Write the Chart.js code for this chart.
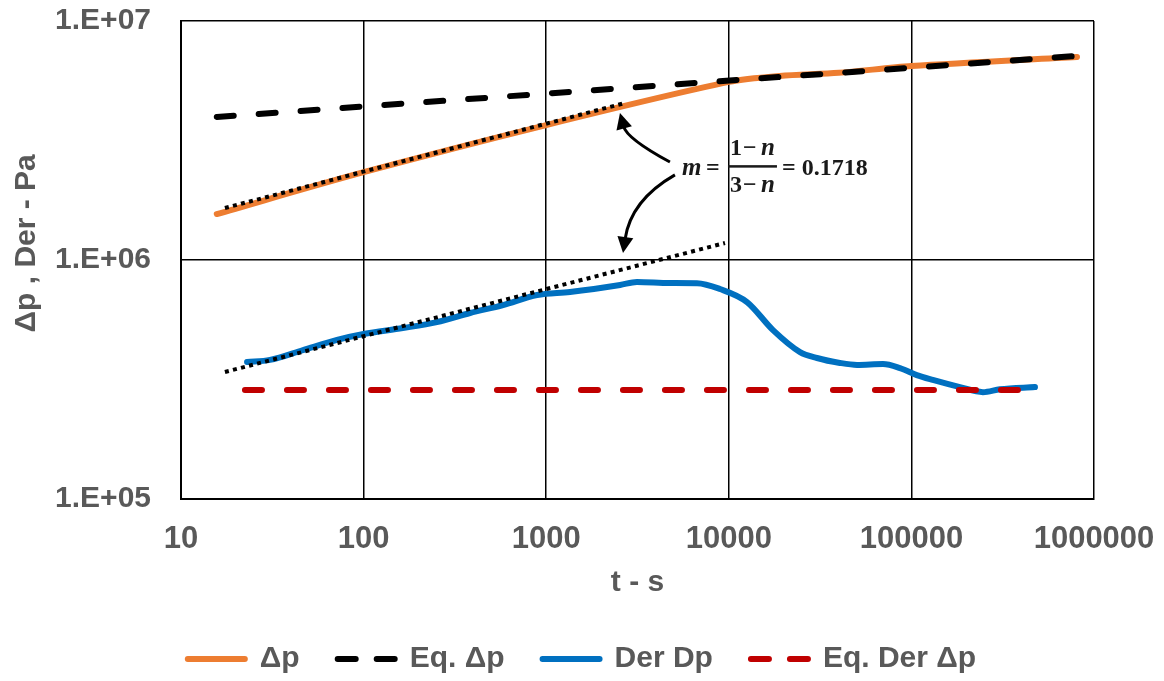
<!DOCTYPE html>
<html>
<head>
<meta charset="utf-8">
<title>Pressure and derivative vs time</title>
<script src="https://cdn.jsdelivr.net/npm/chart.js@4.4.1/dist/chart.umd.min.js"></script>
<style>
  html, body { margin: 0; padding: 0; background: #fff; }
  #wrap { width: 1164px; height: 681px; }
</style>
</head>
<body>
<div id="wrap"><canvas id="chart"></canvas></div>
<script>
// ---- data (t in s, values in Pa) ----
const dpTime = [15.7, 100, 1000, 10000, 19000, 40000, 100000, 807000];
const dpValue = [1.557e6, 2.33e6, 3.67e6, 5.56e6, 5.89e6, 6.07e6, 6.48e6, 7.07e6];

const eqDpTime = [15.7, 807000];
const eqDpValue = [3.97e6, 7.14e6];

const derTime = [23, 30.7, 46.6, 71.5, 100, 164, 252, 383, 580, 891, 1350, 2540, 3140, 4760, 6700,
                 8950, 12580, 17460, 24550, 30400, 40600, 50400, 69900, 86600, 107000, 131000,
                 184500, 246600, 305500, 475000];
const derValue = [3.74e5, 3.82e5, 4.20e5, 4.63e5, 4.90e5, 5.19e5, 5.50e5, 6.00e5, 6.48e5, 7.14e5,
                  7.35e5, 7.86e5, 8.09e5, 8.01e5, 8.0e5, 7.56e5, 6.67e5, 5.09e5, 4.12e5, 3.89e5,
                  3.71e5, 3.64e5, 3.67e5, 3.53e5, 3.30e5, 3.15e5, 2.94e5, 2.80e5, 2.88e5, 2.94e5];

const eqDerTime = [22.4, 419000];
const eqDerValue = [2.86e5, 2.86e5];

// slope guide lines (m = 0.1718)
const fitUpperTime = [17.4, 2700];
const fitUpperValue = [1.65e6, 4.54e6];
const fitLowerTime = [17.4, 9530];
const fitLowerValue = [3.40e5, 1.178e6];

const xTicks = [10, 100, 1000, 10000, 100000, 1000000];
const yTicks = [1e5, 1e6, 1e7];

// annotation anchors in data space [t, value]
const formulaAnchor = [5540, 2.47e6];
const arrowUp = { from: [4760, 2.57e6], ctrl: [2770, 3.22e6], to: [2535, 4.12e6] };
const arrowDown = { from: [5070, 2.27e6], ctrl: [2910, 1.78e6], to: [2634, 1.07e6] };

const pts = (xs, ys) => xs.map((x, i) => ({ x, y: ys[i] }));

const GREY = "#595959";
const FONT = "'Liberation Sans', Arial, sans-serif";
const SERIF = "'Liberation Serif', 'Times New Roman', serif";

const annotationPlugin = {
  id: "slopeNote",
  afterDatasetsDraw(chart) {
    const { ctx, scales: { x, y } } = chart;
    const px = p => [x.getPixelForValue(p[0]), y.getPixelForValue(p[1])];

    ctx.save();
    ctx.strokeStyle = "#000";
    ctx.fillStyle = "#000";
    ctx.lineWidth = 3;
    [arrowUp, arrowDown].forEach(a => {
      const [x0, y0] = px(a.from), [cx, cy] = px(a.ctrl), [x1, y1] = px(a.to);
      const ang = Math.atan2(y1 - cy, x1 - cx);
      const head = 16;
      const bx = x1 - Math.cos(ang) * head, by = y1 - Math.sin(ang) * head;
      ctx.beginPath();
      ctx.moveTo(x0, y0);
      ctx.quadraticCurveTo(cx, cy, bx + Math.cos(ang) * 2, by + Math.sin(ang) * 2);
      ctx.stroke();
      ctx.beginPath();
      ctx.moveTo(x1, y1);
      ctx.lineTo(bx + Math.sin(ang) * 8, by - Math.cos(ang) * 8);
      ctx.lineTo(bx - Math.sin(ang) * 8, by + Math.cos(ang) * 8);
      ctx.closePath();
      ctx.fill();
    });

    // m = (1 - n)/(3 - n) = 0.1718
    const [ax, ay] = px(formulaAnchor);
    ctx.fillStyle = "#1a1a1a";
    ctx.textBaseline = "alphabetic";
    ctx.textAlign = "left";
    const italic = "italic bold 25px " + SERIF;
    const plain = "bold 24px " + SERIF;
    ctx.font = italic;
    ctx.fillText("m", ax, ay + 9);
    ctx.font = plain;
    ctx.fillText("=", ax + 24, ay + 9);
    ctx.fillRect(ax + 46, ay - 1, 49, 2.5);
    [["1", ay - 11], ["3", ay + 26]].forEach(([d, by]) => {
      ctx.font = plain;
      ctx.fillText(d, ax + 48, by);
      ctx.fillText("\u2212", ax + 61, by);
      ctx.font = italic;
      ctx.fillText("n", ax + 79, by);
    });
    ctx.font = plain;
    ctx.fillText("= 0.1718", ax + 100, ay + 9);
    ctx.restore();
  }
};

const defaultLabels = Chart.defaults.plugins.legend.labels.generateLabels;

new Chart(document.getElementById("chart"), {
  type: "line",
  data: {
    datasets: [
      { label: "\u0394p", data: pts(dpTime, dpValue), borderColor: "#ED7D31", backgroundColor: "#ED7D31",
        borderWidth: 6, tension: 0.3, borderCapStyle: "round", order: 5 },
      { label: "Eq. \u0394p", data: pts(eqDpTime, eqDpValue), borderColor: "#000", backgroundColor: "#000",
        borderWidth: 6, borderDash: [17, 25], borderCapStyle: "round", order: 4 },
      { label: "Der Dp", data: pts(derTime, derValue), borderColor: "#0070C0", backgroundColor: "#0070C0",
        borderWidth: 6, tension: 0.4, cubicInterpolationMode: "monotone", borderCapStyle: "round", order: 3 },
      { label: "Eq. Der \u0394p", data: pts(eqDerTime, eqDerValue), borderColor: "#C00000", backgroundColor: "#C00000",
        borderWidth: 6, borderDash: [17, 25], borderCapStyle: "round", order: 2 },
      { label: "", data: pts(fitUpperTime, fitUpperValue), borderColor: "#000",
        borderWidth: 4, borderDash: [4, 4.3], order: 1 },
      { label: "", data: pts(fitLowerTime, fitLowerValue), borderColor: "#000",
        borderWidth: 4, borderDash: [4, 4.3], order: 0 }
    ]
  },
  options: {
    responsive: true,
    maintainAspectRatio: false,
    animation: false,
    layout: { padding: { left: 0, right: 0, top: 21, bottom: -3 } },
    elements: { point: { radius: 0, hoverRadius: 0 } },
    plugins: {
      tooltip: { enabled: false },
      legend: {
        position: "bottom",
        reverse: true,
        labels: {
          filter: item => item.text !== "",
          generateLabels: chart => defaultLabels(chart).map(item => {
            const ds = chart.data.datasets[item.datasetIndex];
            return Object.assign(item, {
              pointStyle: "line",
              strokeStyle: ds.borderColor,
              lineWidth: 6,
              lineCap: "round",
              lineDashOffset: 0,
              lineDash: ds.borderDash ? [18, 21] : []
            });
          }),
          usePointStyle: true,
          pointStyleWidth: 57,
          padding: 38,
          color: GREY,
          font: { family: FONT, size: 30, weight: "bold" }
        }
      }
    },
    scales: {
      x: {
        type: "logarithmic",
        min: 10, max: 1000000,
        afterBuildTicks: s => { s.ticks = xTicks.map(v => ({ value: v })); },
        afterFit: s => { s.height = 107; s.paddingLeft = 0; s.paddingRight = 70; },
        grid: { color: "#000", lineWidth: 1.5, drawTicks: false },
        border: { color: "#000", width: 2 },
        ticks: {
          autoSkip: false, maxRotation: 0, padding: 22, color: GREY,
          font: { family: FONT, size: 31, weight: "bold" },
          callback: v => String(v)
        },
        title: {
          display: true, text: "t - s", color: GREY,
          font: { family: FONT, size: 30, weight: "bold" },
          padding: { top: 0, bottom: 5 }
        }
      },
      y: {
        type: "logarithmic",
        min: 1e5, max: 1e7,
        afterBuildTicks: s => { s.ticks = yTicks.map(v => ({ value: v })); },
        afterFit: s => { s.width = 181; s.paddingTop = 0; s.paddingBottom = 0; },
        grid: { color: "#000", lineWidth: 1.5, drawTicks: false },
        border: { color: "#000", width: 2 },
        ticks: {
          padding: 30, color: GREY,
          font: { family: FONT, size: 30, weight: "bold" },
          callback: v => "1.E+0" + Math.round(Math.log10(v))
        },
        title: {
          display: true, text: "    \u0394p , Der - Pa", color: GREY,
          font: { family: FONT, size: 30, weight: "bold" },
          padding: { top: 9, bottom: 0 }
        }
      }
    }
  },
  plugins: [annotationPlugin]
});
</script>
</body>
</html>
